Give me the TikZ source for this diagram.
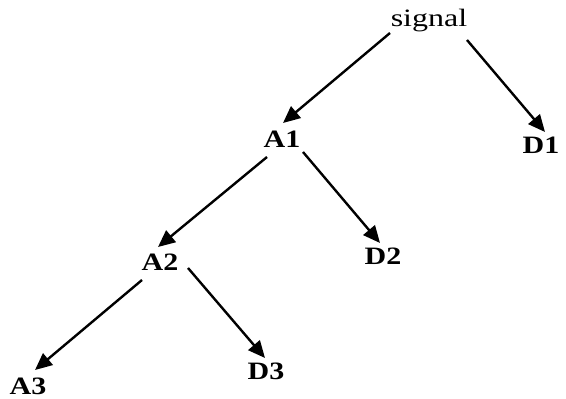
\documentclass[tikz,border=0pt]{standalone}
\usepackage{fontspec}
\setmainfont{Liberation Serif}
\usetikzlibrary{calc,arrows.meta}
\tikzset{
  lbl/.style={inner sep=0pt, font=\fontsize{25}{28}\selectfont\bfseries},
  sig/.style={inner sep=0pt, font=\fontsize{25}{28}\selectfont},
  arr/.style={line width=2.4pt, -{Triangle[length=17pt,width=15pt]}}
}
\begin{document}
\begin{tikzpicture}[x=1pt,y=1pt]
\useasboundingbox (0,0) rectangle (566,399);
\node[sig] (signal) at (429,378) {\scalebox{1.28}[1]{signal}};
\node[lbl] (A1) at (282,260) {\scalebox{1.2}[1]{A1}};
\node[lbl] (D1) at (541,254) {\scalebox{1.2}[1]{D1}};
\node[lbl] (A2) at (160,137) {\scalebox{1.2}[1]{A2}};
\node[lbl] (D2) at (383,143) {\scalebox{1.2}[1]{D2}};
\node[lbl] (A3) at (28,13) {\scalebox{1.2}[1]{A3}};
\node[lbl] (D3) at (266,28) {\scalebox{1.2}[1]{D3}};
\draw[arr] ($(signal)+(-39,-12)$) -- ($(A1)+(1,16)$);
\draw[arr] ($(signal)+(38,-19)$) -- ($(D1)+(4,13)$);
\draw[arr] ($(A1)+(-15,-18)$) -- ($(A2)+(-2,15)$);
\draw[arr] ($(A1)+(21,-13)$) -- ($(D2)+(-3,13)$);
\draw[arr] ($(A2)+(-18,-18)$) -- ($(A3)+(7,16)$);
\draw[arr] ($(A2)+(28,-6)$) -- ($(D3)+(-1,13)$);
\end{tikzpicture}
\end{document}
